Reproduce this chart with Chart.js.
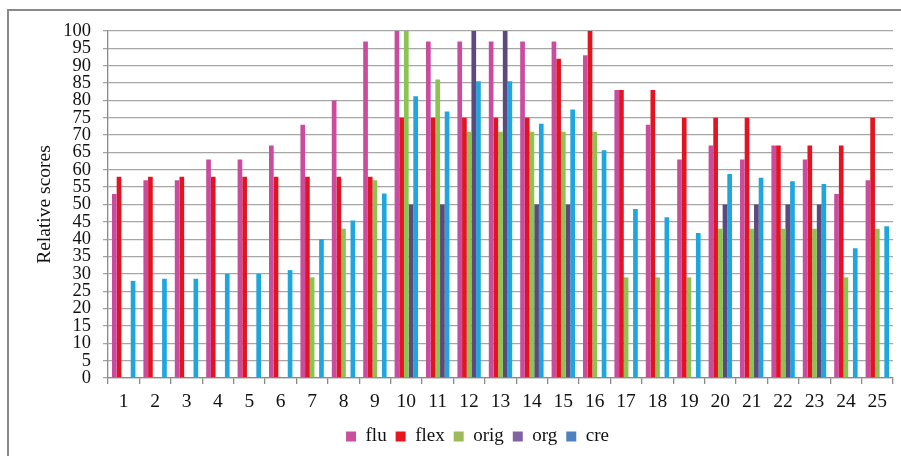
<!DOCTYPE html>
<html>
<head>
<meta charset="utf-8">
<script src="https://cdn.jsdelivr.net/npm/chart.js@4"></script>
<style>
  html, body { margin: 0; padding: 0; background: #fff; }
  .wrap { position: relative; width: 901px; height: 456px; overflow: hidden; }
  .frame { position: absolute; left: 7px; top: 9px; width: 905px; height: 470px; border: 2px solid #8a8a8a; box-sizing: border-box; }
  canvas { position: absolute; left: 0; top: 0; }
</style>
</head>
<body>
<div class="wrap">
  <div class="frame"></div>
  <canvas id="myChart" width="901" height="456"></canvas>
</div>
<script>
const categories = ["1", "2", "3", "4", "5", "6", "7", "8", "9", "10", "11", "12", "13",
    "14", "15", "16", "17", "18", "19", "20", "21", "22", "23", "24", "25"];

const flu  = [53, 57, 57, 63, 63, 67, 73, 80, 97, 100, 97, 97, 97, 97, 97, 93, 83, 73, 63, 67, 63, 67, 63, 53, 57];
const flex = [58, 58, 58, 58, 58, 58, 58, 58, 58, 75, 75, 75, 75, 75, 92, 100, 83, 83, 75, 75, 75, 67, 67, 67, 75];
const orig = [null, null, null, null, null, null, 29, 43, 57, 100, 86, 71, 71, 71, 71, 71, 29, 29, 29, 43, 43, 43, 43, 29, 43];
const org  = [null, null, null, null, null, null, null, null, null, 50, 50, 100, 100, 50, 50, null, null, null, null, 50, 50, 50, 50, null, null];
const cre  = [28, 28.6, 28.6, 30, 30, 31.1, 40, 45.4, 53.2, 81.2, 76.8, 85.5, 85.5, 73.3, 77.4, 65.6, 48.7, 46.3, 41.8, 58.8, 57.7, 56.7, 55.9, 37.4, 43.7];

const yStep = 5;

const barColors = ["#c94c9f", "#e3141f", "#8cc451", "#5a4a7e", "#1fa6de"];
const legendColors = ["#c9509e", "#e8141e", "#9bbb59", "#8064a2", "#4f81bd"];

const serif = "'Liberation Serif', 'Times New Roman', serif";

// nudge the legend to the right, like the original
const legendShift = {
    id: "legendShift",
    afterLayout(chart) {
        chart.legend.left += 16;
        chart.legend.right += 16;
    }
};

let data = {
    labels: categories,
    datasets: [
        { label: "flu", data: flu, backgroundColor: barColors[0] },
        { label: "flex", data: flex, backgroundColor: barColors[1] },
        { label: "orig", data: orig, backgroundColor: barColors[2] },
        { label: "org", data: org, backgroundColor: barColors[3] },
        { label: "cre", data: cre, backgroundColor: barColors[4] }
    ]
};

let config = {
    type: "bar",
    data: data,
    plugins: [legendShift],
    options: {
        responsive: false,
        animation: false,
        categoryPercentage: 0.745,
        barPercentage: 1,
        layout: { padding: { left: 30, right: 8, top: 31, bottom: 0 } },
        plugins: {
            tooltip: { enabled: false },
            legend: {
                position: "bottom",
                labels: {
                    color: "#111",
                    font: { family: serif, size: 19 },
                    boxWidth: 10,
                    boxHeight: 10,
                    padding: 9,
                    generateLabels: chart => {
                        return chart.data.datasets.map((ds, i) => ({
                            text: ds.label,
                            fillStyle: legendColors[i],
                            strokeStyle: legendColors[i],
                            lineWidth: 0,
                            datasetIndex: i,
                            fontColor: "#111"
                        }));
                    }
                }
            }
        },
        scales: {
            x: {
                afterFit: scale => { scale.height = 40; },
                grid: {
                    offset: true,
                    drawOnChartArea: false,
                    drawTicks: true,
                    tickLength: 6,
                    color: "#8a8a8a",
                    lineWidth: 1.3
                },
                border: { color: "#8a8a8a", width: 1.3 },
                ticks: {
                    color: "#111",
                    font: { family: serif, size: 19.5 },
                    padding: 6,
                    maxRotation: 0,
                    autoSkip: false
                }
            },
            y: {
                min: 0,
                max: 100,
                afterFit: scale => { scale.width = 78; },
                grid: {
                    color: "#a6a6a6",
                    lineWidth: 1.3,
                    tickLength: 5
                },
                border: { color: "#8a8a8a", width: 1.3 },
                ticks: {
                    stepSize: yStep,
                    autoSkip: false,
                    color: "#111",
                    font: { family: serif, size: 18.5 },
                    padding: 12
                },
                title: {
                    display: true,
                    text: "Relative scores",
                    color: "#111",
                    font: { family: serif, size: 19.5 },
                    padding: 3
                }
            }
        }
    }
};

let myChart = new Chart(
    document.getElementById("myChart"),
    config
);
</script>
</body>
</html>
